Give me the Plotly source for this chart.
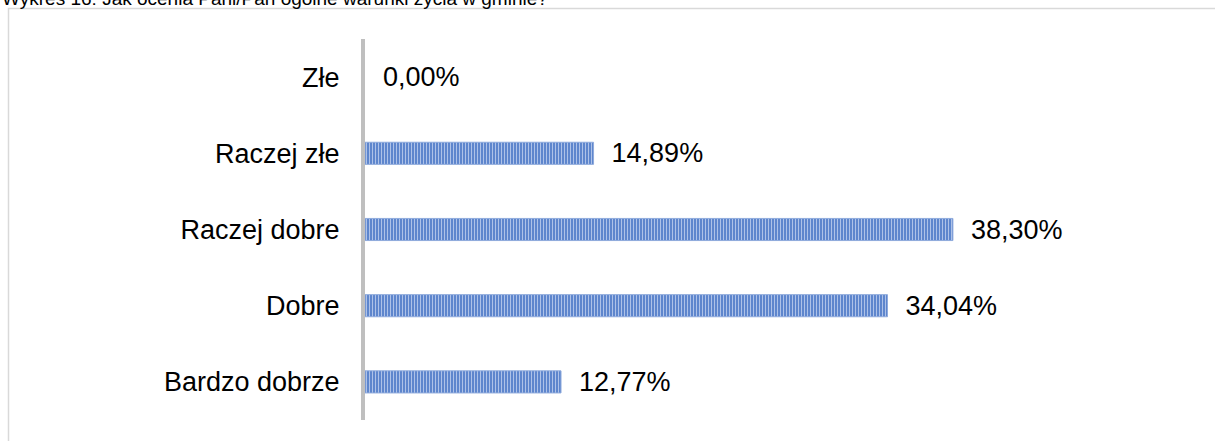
import plotly.graph_objects as go

categories = ["Złe", "Raczej złe", "Raczej dobre", "Dobre", "Bardzo dobrze"]
values = [0.00, 14.89, 38.30, 34.04, 12.77]
labels = ["0,00%", "14,89%", "38,30%", "34,04%", "12,77%"]
title = "Wykres 16: Jak ocenia Pani/Pan ogólne warunki życia w gminie?"

W, H = 1215, 441
ML, MR, MT, MB = 365, 1215 - 1130, 39, 21
plot_w = W - ML - MR
plot_h = H - MT - MB

def px_x(p):
    return (p - ML) / plot_w

def px_y(p):
    return (H - MB - p) / plot_h

FONT = "Liberation Sans, Arial, sans-serif"

fig = go.Figure()
fig.add_trace(go.Bar(
    y=categories,
    x=values,
    orientation="h",
    width=0.29,
    marker=dict(
        color="#4472C4",
        line=dict(color="#8faadc", width=[0 if v == 0 else 1 for v in values]),
        pattern=dict(shape="|", bgcolor="#4472C4", fgcolor="#aec2e8",
                     size=3, solidity=0.5, fillmode="replace"),
    ),
    text=["  " + t for t in labels],
    textposition="outside",
    constraintext="none",
    textfont=dict(family=FONT, size=27, color="#000000"),
    cliponaxis=False,
    hoverinfo="skip",
))

fig.update_layout(
    width=W, height=H,
    margin=dict(l=ML, r=MR, t=MT, b=MB, pad=0),
    paper_bgcolor="white",
    plot_bgcolor="white",
    showlegend=False,
    xaxis=dict(range=[0, (W - ML - MR) / 15.35], visible=False, fixedrange=True),
    yaxis=dict(
        categoryorder="array", categoryarray=categories, autorange="reversed",
        showline=True, linecolor="#bfbfbf", linewidth=4,
        showgrid=False, zeroline=False, ticks="",
        ticklabelstandoff=16, automargin=False, fixedrange=True,
        tickfont=dict(family=FONT, size=27, color="#000000"),
    ),
    shapes=[dict(
        type="rect", xref="paper", yref="paper",
        x0=px_x(8.5), x1=px_x(1300), y0=px_y(500), y1=px_y(8.5),
        line=dict(color="#d9d9d9", width=1.5), fillcolor="rgba(0,0,0,0)",
        layer="below",
    )],
    annotations=[dict(
        text=title, xref="paper", yref="paper",
        x=px_x(0), y=px_y(11), xanchor="left", yanchor="bottom",
        showarrow=False, font=dict(family=FONT, size=19, color="#000000"),
    )],
)

fig.write_html("out.html", config={"displayModeBar": False},
               post_script="document.body.style.margin='0';")
